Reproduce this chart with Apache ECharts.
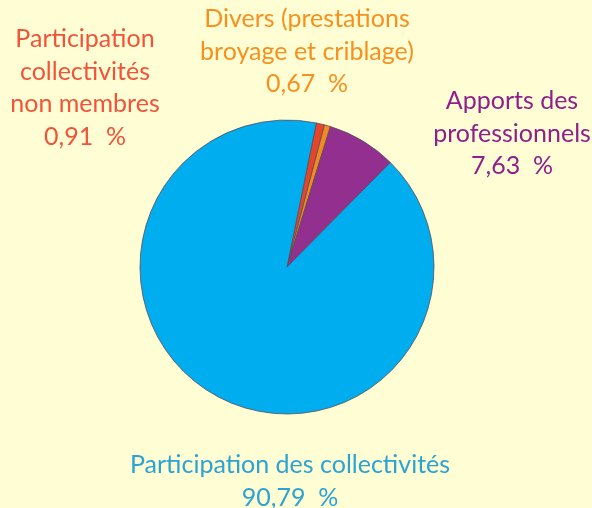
<!DOCTYPE html>
<html><head><meta charset="utf-8">
<script src="https://cdn.jsdelivr.net/npm/echarts@6/dist/echarts.min.js"></script>
<style>html,body{margin:0;padding:0;background:#FFFDD3;}#c{width:592px;height:508px;}</style>
</head><body><div id="c"></div>
<script>
const categories = ["Participation collectivités non membres", "Divers (prestations broyage et criblage)", "Apports des professionnels", "Participation des collectivités"];
const values = [0.91, 0.67, 7.63, 90.79];
const labelLines = [
  ["Participation", "collectivités", "non membres", "0,91  %"],
  ["Divers (prestations", "broyage et criblage)", "0,67  %"],
  ["Apports des", "professionnels", "7,63  %"],
  ["Participation des collectivités", "90,79  %"]
];
const sliceColors = ["#E5452B", "#F28A1E", "#93308F", "#00AEEF"];
const textColors = ["#F2533A", "#F7901E", "#8E1F8C", "#2BA3D3"];
const labelPos = [[85, 23], [307, 3], [512, 85], [290, 449]];

const chart = echarts.init(document.getElementById('c'));
const graphics = labelLines.map((lines, i) => ({
  type: 'text', x: labelPos[i][0], y: labelPos[i][1],
  style: { text: lines.join('\n'), fill: textColors[i], font: '25px Lato', lineHeight: 32.5, align: 'center' }
}));
chart.setOption({
  backgroundColor: '#FFFDD3',
  animation: false,
  graphic: graphics,
  series: [{
    type: 'pie', center: [287, 267], radius: 147, startAngle: 78.5, clockwise: true,
    label: { show: false }, labelLine: { show: false }, silent: true,
    itemStyle: { borderColor: '#5a4a5a', borderWidth: 0.8 },
    data: categories.map((n, i) => ({ name: n, value: values[i], itemStyle: { color: sliceColors[i] } }))
  }]
});
</script></body></html>
